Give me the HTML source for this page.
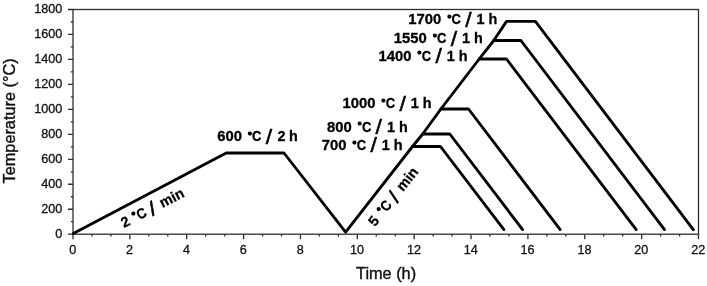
<!DOCTYPE html>
<html><head><meta charset="utf-8"><title>Temperature profile</title>
<style>
html,body{margin:0;padding:0;background:#fff;}
body{width:707px;height:286px;overflow:hidden;}
svg{display:block;filter:blur(0.45px);}
.tick{font-family:"Liberation Sans",sans-serif;font-size:12.6px;fill:#111;stroke:#111;stroke-width:0.3px;}
.axl{font-family:"Liberation Sans",sans-serif;font-size:16.3px;fill:#111;stroke:#111;stroke-width:0.4px;}
.lab{font-family:"Liberation Sans",sans-serif;font-weight:bold;font-size:14.4px;fill:#000;stroke:#000;stroke-width:0.3px;}
.deg{stroke:#000;stroke-width:1.2px;font-size:9.5px !important;}
.sl{font-family:"Liberation Sans",sans-serif;font-size:19.6px;fill:#000;stroke:#000;stroke-width:0.5px;}
.ax{stroke:#2e2e2e;stroke-width:1.3;fill:none;}
.ln{stroke:#000;stroke-width:2.85;fill:none;stroke-linejoin:round;stroke-linecap:round;}
</style></head><body>
<svg width="707" height="286" viewBox="0 0 707 286">
<rect width="707" height="286" fill="#fff"/>
<rect class="ax" x="73.0" y="9.5" width="625.5" height="224.7"/>
<path class="ax" d="M68.00 234.20H73.0M70.80 221.72H73.0M68.00 209.23H73.0M70.80 196.75H73.0M68.00 184.27H73.0M70.80 171.78H73.0M68.00 159.30H73.0M70.80 146.82H73.0M68.00 134.33H73.0M70.80 121.85H73.0M68.00 109.37H73.0M70.80 96.88H73.0M68.00 84.40H73.0M70.80 71.92H73.0M68.00 59.43H73.0M70.80 46.95H73.0M68.00 34.47H73.0M70.80 21.98H73.0M68.00 9.50H73.0M73.00 234.2V239.20M91.95 234.2V236.40M110.91 234.2V236.40M129.86 234.2V239.20M148.82 234.2V236.40M167.77 234.2V236.40M186.73 234.2V239.20M205.68 234.2V236.40M224.64 234.2V236.40M243.59 234.2V239.20M262.55 234.2V236.40M281.50 234.2V236.40M300.45 234.2V239.20M319.41 234.2V236.40M338.36 234.2V236.40M357.32 234.2V239.20M376.27 234.2V236.40M395.23 234.2V236.40M414.18 234.2V239.20M433.14 234.2V236.40M452.09 234.2V236.40M471.05 234.2V239.20M490.00 234.2V236.40M508.95 234.2V236.40M527.91 234.2V239.20M546.86 234.2V236.40M565.82 234.2V236.40M584.77 234.2V239.20M603.73 234.2V236.40M622.68 234.2V236.40M641.64 234.2V239.20M660.59 234.2V236.40M679.55 234.2V236.40M698.50 234.2V239.20"/>
<text class="tick" text-anchor="end" x="62.3" y="237.6">0</text>
<text class="tick" text-anchor="end" x="62.3" y="212.6">200</text>
<text class="tick" text-anchor="end" x="62.3" y="187.7">400</text>
<text class="tick" text-anchor="end" x="62.3" y="162.7">600</text>
<text class="tick" text-anchor="end" x="62.3" y="137.7">800</text>
<text class="tick" text-anchor="end" x="62.3" y="112.8">1000</text>
<text class="tick" text-anchor="end" x="62.3" y="87.8">1200</text>
<text class="tick" text-anchor="end" x="62.3" y="62.8">1400</text>
<text class="tick" text-anchor="end" x="62.3" y="37.9">1600</text>
<text class="tick" text-anchor="end" x="62.3" y="12.9">1800</text>
<text class="tick" text-anchor="middle" x="72.7" y="253.9">0</text>
<text class="tick" text-anchor="middle" x="129.6" y="253.9">2</text>
<text class="tick" text-anchor="middle" x="186.4" y="253.9">4</text>
<text class="tick" text-anchor="middle" x="243.3" y="253.9">6</text>
<text class="tick" text-anchor="middle" x="300.2" y="253.9">8</text>
<text class="tick" text-anchor="middle" x="357.0" y="253.9">10</text>
<text class="tick" text-anchor="middle" x="413.9" y="253.9">12</text>
<text class="tick" text-anchor="middle" x="470.7" y="253.9">14</text>
<text class="tick" text-anchor="middle" x="527.6" y="253.9">16</text>
<text class="tick" text-anchor="middle" x="584.5" y="253.9">18</text>
<text class="tick" text-anchor="middle" x="641.3" y="253.9">20</text>
<text class="tick" text-anchor="middle" x="698.2" y="253.9">22</text>
<text class="axl" text-anchor="middle" x="386.1" y="279.3">Time (h)</text>
<text class="axl" text-anchor="middle" transform="translate(15.1 120.9) rotate(-90)">Temperature (°C)</text>
<polyline class="ln" points="73.3,233.6 226.2,153.0 284.0,153.0 345.6,232.2 412.5,146.5 422.7,134.0 440.9,109.0 479.2,59.0 493.8,40.5 506.5,21.4 535.4,21.4 693.3,229.6"/>
<polyline class="ln" points="493.8,40.5 520.9,40.5 664.5,229.6"/>
<polyline class="ln" points="479.2,59.0 506.5,59.0 636.2,229.6"/>
<polyline class="ln" points="440.9,109.0 468.5,109.0 560.2,229.6"/>
<polyline class="ln" points="422.7,134.0 449.8,134.0 522.6,229.6"/>
<polyline class="ln" points="412.5,146.5 440.5,146.5 503.9,229.6"/>
<g transform="translate(409.2 24.2)">
<text class="lab" x="-0.91" y="0" textLength="33.00" lengthAdjust="spacingAndGlyphs">1700</text>
<text class="lab deg" x="38.22" y="-3.4">°</text>
<text class="lab" x="42.42" y="0" textLength="9.4" lengthAdjust="spacingAndGlyphs">C</text>
<text class="sl" x="56.02" y="2.5" textLength="6.4" lengthAdjust="spacingAndGlyphs">/</text>
<text class="lab" x="67.41" y="0">1</text>
<text class="lab" x="79.41" y="0">h</text>
</g>
<g transform="translate(394.7 43.0)">
<text class="lab" x="-0.91" y="0" textLength="33.00" lengthAdjust="spacingAndGlyphs">1550</text>
<text class="lab deg" x="38.22" y="-3.4">°</text>
<text class="lab" x="42.42" y="0" textLength="9.4" lengthAdjust="spacingAndGlyphs">C</text>
<text class="sl" x="56.02" y="2.5" textLength="6.4" lengthAdjust="spacingAndGlyphs">/</text>
<text class="lab" x="67.41" y="0">1</text>
<text class="lab" x="79.41" y="0">h</text>
</g>
<g transform="translate(379.4 60.8)">
<text class="lab" x="-0.91" y="0" textLength="33.00" lengthAdjust="spacingAndGlyphs">1400</text>
<text class="lab deg" x="38.22" y="-3.4">°</text>
<text class="lab" x="42.42" y="0" textLength="9.4" lengthAdjust="spacingAndGlyphs">C</text>
<text class="sl" x="56.02" y="2.5" textLength="6.4" lengthAdjust="spacingAndGlyphs">/</text>
<text class="lab" x="67.41" y="0">1</text>
<text class="lab" x="79.41" y="0">h</text>
</g>
<g transform="translate(343.4 108.2)">
<text class="lab" x="-0.91" y="0" textLength="33.00" lengthAdjust="spacingAndGlyphs">1000</text>
<text class="lab deg" x="38.22" y="-3.4">°</text>
<text class="lab" x="42.42" y="0" textLength="9.4" lengthAdjust="spacingAndGlyphs">C</text>
<text class="sl" x="56.02" y="2.5" textLength="6.4" lengthAdjust="spacingAndGlyphs">/</text>
<text class="lab" x="67.41" y="0">1</text>
<text class="lab" x="79.41" y="0">h</text>
</g>
<g transform="translate(327.5 131.5)">
<text class="lab" x="-0.46" y="0" textLength="24.75" lengthAdjust="spacingAndGlyphs">800</text>
<text class="lab deg" x="30.19" y="-3.4">°</text>
<text class="lab" x="34.39" y="0" textLength="9.4" lengthAdjust="spacingAndGlyphs">C</text>
<text class="sl" x="47.99" y="2.5" textLength="6.4" lengthAdjust="spacingAndGlyphs">/</text>
<text class="lab" x="59.38" y="0">1</text>
<text class="lab" x="71.38" y="0">h</text>
</g>
<g transform="translate(322.4 149.9)">
<text class="lab" x="-0.62" y="0" textLength="24.75" lengthAdjust="spacingAndGlyphs">700</text>
<text class="lab deg" x="30.19" y="-3.4">°</text>
<text class="lab" x="34.39" y="0" textLength="9.4" lengthAdjust="spacingAndGlyphs">C</text>
<text class="sl" x="47.99" y="2.5" textLength="6.4" lengthAdjust="spacingAndGlyphs">/</text>
<text class="lab" x="59.38" y="0">1</text>
<text class="lab" x="71.38" y="0">h</text>
</g>
<g transform="translate(217.7 141.1)">
<text class="lab" x="-0.53" y="0" textLength="24.75" lengthAdjust="spacingAndGlyphs">600</text>
<text class="lab deg" x="30.19" y="-3.4">°</text>
<text class="lab" x="34.39" y="0" textLength="9.4" lengthAdjust="spacingAndGlyphs">C</text>
<text class="sl" x="47.99" y="2.5" textLength="6.4" lengthAdjust="spacingAndGlyphs">/</text>
<text class="lab" x="59.79" y="0">2</text>
<text class="lab" x="71.38" y="0">h</text>
</g>
<g transform="translate(375.3 226.8) rotate(-51.3)">
<text class="lab" x="-0.45" y="0">5</text>
<text class="lab deg" x="14.13" y="-3.4">°</text>
<text class="lab" x="18.33" y="0" textLength="9.4" lengthAdjust="spacingAndGlyphs">C</text>
<text class="sl" x="31.93" y="2.5" textLength="6.4" lengthAdjust="spacingAndGlyphs">/</text>
<text class="lab" x="44.48" y="0">min</text>
</g>
<g transform="translate(123.1 228.4) rotate(-27.3)">
<text class="lab" x="1.00" y="0">2</text>
<text class="lab deg" x="14.13" y="-3.4">°</text>
<text class="lab" x="18.33" y="0" textLength="9.4" lengthAdjust="spacingAndGlyphs">C</text>
<text class="sl" x="31.93" y="2.5" textLength="6.4" lengthAdjust="spacingAndGlyphs">/</text>
<text class="lab" x="44.48" y="0">min</text>
</g>
</svg>
</body></html>
